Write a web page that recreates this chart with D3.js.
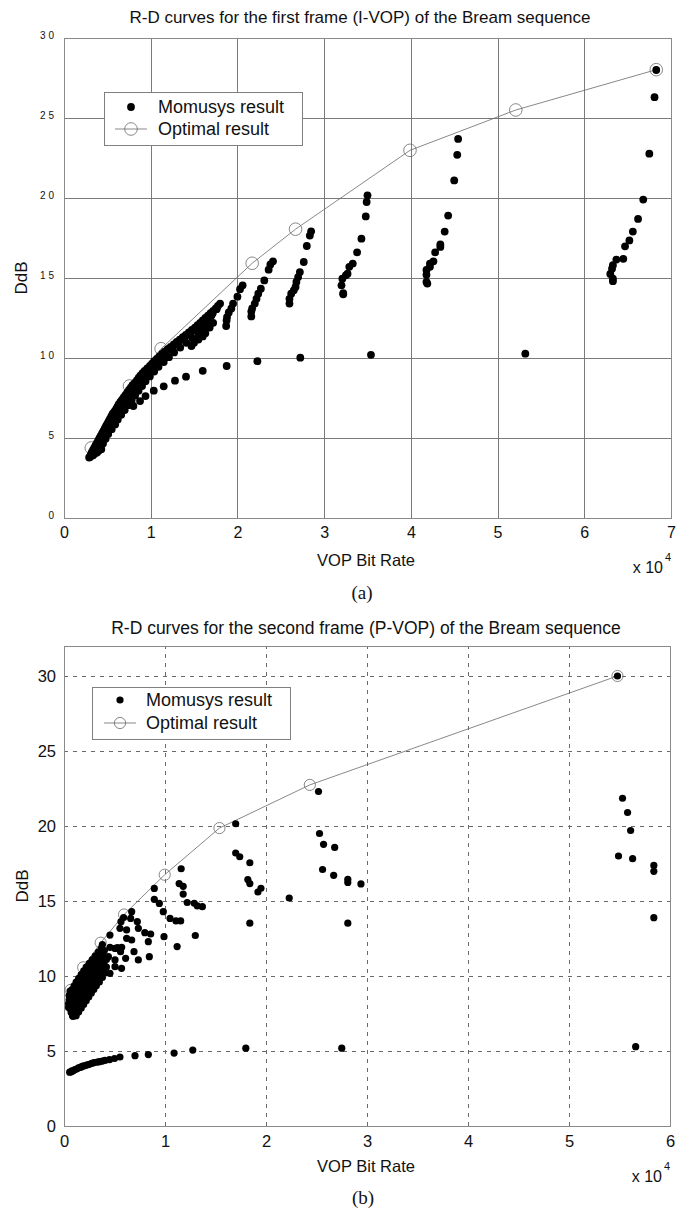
<!DOCTYPE html>
<html><head><meta charset="utf-8">
<script src="https://cdn.jsdelivr.net/npm/d3@7"></script>
<style>body{margin:0;background:#fff} svg{display:block}</style>
</head><body><svg id="c" width="684" height="1214"></svg>
<script>
// ---------- DATA (bit rate in units of 1e4, distortion in dB) ----------
const topTitle = "R-D curves for the first frame (I-VOP) of the Bream sequence";
const botTitle = "R-D curves for the second frame (P-VOP) of the Bream sequence";
const xLabel = "VOP Bit Rate";
const yLabel = "DdB";
const legendLabels = ["Momusys result", "Optimal result"];
const topXTicks = [0, 1, 2, 3, 4, 5, 6, 7];
const topYTicks = [0, 5, 10, 15, 20, 25, 30];
const botXTicks = [0, 1, 2, 3, 4, 5, 6];
const botYTicks = [0, 5, 10, 15, 20, 25, 30];

// (a) optimal result
const topOptimal = [[0.315,4.38],[0.755,8.25],[1.12,10.58],[2.17,15.92],[2.67,18.05],[3.99,22.98],[5.21,25.5],[6.83,28.02]];
// (a) Momusys result: main dense band
const topBandA = [[0.29,3.78],[0.30,3.82],[0.32,4.1],[0.35,4.4],[0.38,4.7],[0.41,5.0],[0.44,5.3],[0.47,5.6],[0.50,5.9],[0.53,6.2],[0.56,6.5],[0.60,6.8],[0.63,7.1],[0.67,7.4],[0.71,7.7],[0.75,8.0],[0.79,8.3],[0.84,8.6],[0.88,8.9],[0.93,9.2],[0.99,9.5],[1.04,9.8],[1.10,10.1],[1.16,10.4],[1.23,10.7],[1.30,11.0],[1.37,11.3],[1.44,11.6],[1.51,11.9],[1.57,12.2],[1.63,12.5],[1.69,12.8],[1.75,13.1],[1.80,13.4]];
const topBandD = [[0.31,3.97],[0.335,4.25],[0.365,4.55],[0.395,4.85],[0.425,5.15],[0.455,5.45],[0.485,5.75],[0.515,6.05],[0.545,6.35],[0.58,6.65],[0.615,6.95],[0.65,7.25],[0.69,7.55],[0.73,7.85],[0.77,8.15],[0.815,8.45],[0.86,8.75],[0.905,9.05],[0.96,9.35],[1.015,9.65],[1.07,9.95],[1.13,10.25],[1.195,10.55],[1.265,10.85],[1.335,11.15],[1.405,11.45],[1.475,11.75],[1.54,12.05],[1.60,12.35],[1.66,12.65],[1.72,12.95],[1.775,13.25]];
const topBandB = [[0.33,3.9],[0.34,3.95],[0.37,4.25],[0.40,4.55],[0.43,4.85],[0.46,5.15],[0.49,5.45],[0.53,5.75],[0.56,6.05],[0.59,6.35],[0.63,6.65],[0.66,6.95],[0.70,7.25],[0.74,7.55],[0.78,7.85],[0.82,8.15],[0.86,8.45],[0.91,8.75],[0.95,9.05],[1.00,9.35],[1.05,9.65],[1.11,9.95],[1.17,10.25],[1.23,10.55],[1.30,10.85],[1.37,11.15],[1.44,11.45],[1.51,11.75],[1.58,12.05],[1.64,12.35],[1.70,12.65]];
const topBandE = [[0.355,4.1],[0.385,4.4],[0.415,4.7],[0.445,5.0],[0.475,5.3],[0.51,5.6],[0.545,5.9],[0.575,6.2],[0.61,6.5],[0.645,6.8],[0.68,7.1],[0.72,7.4],[0.76,7.7],[0.80,8.0],[0.84,8.3],[0.88,8.6],[0.925,8.9],[0.97,9.2],[1.02,9.5],[1.075,9.8],[1.13,10.1],[1.19,10.4],[1.255,10.7],[1.32,11.0],[1.39,11.3],[1.46,11.6],[1.53,11.9],[1.60,12.2],[1.66,12.5],[1.715,12.8],[1.76,13.05]];
const topBandC = [[0.36,4.05],[0.38,4.1],[0.40,4.2],[0.42,4.35],[0.43,4.3],[0.45,4.65],[0.48,4.95],[0.51,5.25],[0.55,5.55],[0.59,5.85],[0.62,6.15],[0.66,6.45],[0.70,6.75],[0.74,7.05],[0.78,7.35],[0.82,7.65],[0.86,7.95],[0.90,8.25],[0.94,8.55],[0.99,8.85],[1.04,9.15],[1.09,9.45],[1.15,9.75],[1.21,10.05],[1.27,10.35],[1.34,10.65],[1.41,10.95],[1.48,11.25],[1.55,11.55],[1.61,11.85],[1.66,12.15]];
const topBandBulge = [[1.47,10.75],[1.50,10.95],[1.55,11.15],[1.60,11.35],[1.63,11.55],[1.68,11.9],[1.72,12.2]];
// (a) lower branch and the outlying streaks
const topLowerBranch = [[0.80,7.0],[0.877,7.31],[0.94,7.62],[1.035,7.96],[1.15,8.23],[1.28,8.58],[1.407,8.83],[1.6,9.2],[1.876,9.5],[2.23,9.8],[2.725,10.02],[3.54,10.2],[5.32,10.27]];
const topStreak19 = [[2.06,14.54],[2.03,14.3],[2.0,13.83],[1.95,13.4],[1.93,13.1],[1.90,12.85],[1.88,12.56],[1.875,12.35],[1.87,12.0]];
const topStreak22 = [[2.41,16.04],[2.38,15.85],[2.36,15.52],[2.31,14.85],[2.27,14.33],[2.24,14.02],[2.22,13.7],[2.20,13.4],[2.17,13.1],[2.16,12.9],[2.16,12.6]];
const topStreak27 = [[2.85,17.92],[2.835,17.65],[2.80,17.0],[2.765,16.0],[2.72,15.37],[2.70,15.06],[2.68,14.75],[2.67,14.44],[2.65,14.23],[2.62,14.02],[2.60,13.7],[2.60,13.4]];
const topStreak33 = [[3.50,20.17],[3.49,19.75],[3.48,18.85],[3.43,17.46],[3.38,16.6],[3.33,15.9],[3.29,15.7],[3.27,15.27],[3.25,15.17],[3.21,14.96],[3.20,14.54],[3.22,14.06],[3.22,13.98]];
const topStreak43 = [[4.545,23.69],[4.535,22.7],[4.50,21.1],[4.43,18.9],[4.39,17.9],[4.34,17.1],[4.34,16.94],[4.28,16.6],[4.26,16.04],[4.22,15.9],[4.22,15.7],[4.18,15.5],[4.18,15.2],[4.18,14.75],[4.19,14.65]];
const topStreak65 = [[6.83,28.0],[6.81,26.3],[6.75,22.77],[6.68,19.9],[6.62,18.69],[6.56,17.9],[6.52,17.35],[6.47,16.98],[6.45,16.2],[6.37,16.15],[6.33,15.8],[6.32,15.58],[6.30,15.25],[6.33,14.96],[6.33,14.8]];

// (b) optimal result
const botOptimal = [[0.066,9.07],[0.19,10.58],[0.363,12.22],[0.595,14.1],[0.997,16.75],[1.539,19.86],[2.434,22.74],[5.48,30.0]];
// (b) Momusys result: dense cluster near the origin
const botClusterA = [[0.06,8.2],[0.06,8.5],[0.065,8.8],[0.08,9.1],[0.10,9.35],[0.12,9.6],[0.145,9.85],[0.17,10.1],[0.195,10.35],[0.22,10.6],[0.25,10.85],[0.28,11.1],[0.31,11.35],[0.34,11.6],[0.37,11.85]];
const botClusterAB = [[0.055,8.05],[0.06,8.35],[0.07,8.65],[0.085,8.95],[0.105,9.2],[0.13,9.45],[0.155,9.7],[0.18,9.95],[0.21,10.2],[0.235,10.45],[0.265,10.7],[0.295,10.95],[0.325,11.2],[0.355,11.45],[0.385,11.7]];
const botClusterB = [[0.065,7.8],[0.08,8.05],[0.095,8.3],[0.11,8.55],[0.13,8.8],[0.15,9.05],[0.175,9.3],[0.2,9.55],[0.225,9.8],[0.25,10.05],[0.28,10.3],[0.31,10.55],[0.34,10.8],[0.37,11.05],[0.40,11.3]];
const botClusterBC = [[0.075,7.55],[0.095,7.8],[0.11,8.1],[0.13,8.35],[0.15,8.6],[0.17,8.85],[0.195,9.1],[0.22,9.35],[0.245,9.6],[0.275,9.85],[0.305,10.1],[0.335,10.35],[0.365,10.6],[0.395,10.85],[0.42,11.1]];
const botClusterC = [[0.085,7.35],[0.105,7.6],[0.125,7.85],[0.145,8.1],[0.165,8.35],[0.19,8.6],[0.215,8.85],[0.24,9.1],[0.27,9.35],[0.30,9.6],[0.33,9.85],[0.36,10.1],[0.39,10.35],[0.42,10.6]];
const botClusterCD = [[0.12,7.35],[0.145,7.6],[0.17,7.85],[0.195,8.1],[0.22,8.35],[0.245,8.6],[0.27,8.85],[0.295,9.1],[0.32,9.35],[0.35,9.6],[0.38,9.9],[0.41,10.2]];
const botClusterEdge = [[0.045,7.9],[0.05,8.4],[0.07,7.6],[0.09,7.3],[0.12,7.5],[0.05,8.7],[0.06,9.0],[0.045,8.15]];
// (b) Momusys result: scattered points
const botScatter = [[0.894,15.84],[0.894,15.11],[0.944,14.84],[0.983,14.29],[1.05,13.84],[1.109,13.67],[1.155,13.67],[0.99,12.62],[1.12,11.96],[0.67,14.29],[0.66,13.84],[0.726,13.62],[0.736,13.18],[0.80,12.89],[0.858,12.8],[0.835,12.29],[0.845,11.29],[0.736,11.07],[0.693,11.62],[0.67,12.4],[0.62,12.51],[0.564,13.62],[0.554,13.18],[0.62,13.07],[0.571,11.91],[0.56,11.62],[0.61,11.18],[0.455,12.73],[0.455,11.91],[0.505,11.84],[0.53,11.9],[0.505,11.07],[0.505,10.62],[0.57,10.51],[0.44,11.29],[0.455,10.18],[0.38,12.1],[0.40,11.7],[0.42,11.2],[0.59,13.9],
 [1.16,17.15],[1.14,16.16],[1.18,15.98],[1.18,15.46],[1.22,14.9],[1.29,14.85],[1.32,14.67],[1.37,14.62],[1.30,12.7],
 [1.70,20.15],[1.70,18.2],[1.74,17.95],[1.84,17.55],[1.82,16.43],[1.84,16.16],[1.95,15.85],[1.92,15.6],[1.84,13.52],[2.23,15.2],
 [2.52,22.3],[2.53,19.5],[2.57,18.78],[2.68,18.57],[2.56,17.1],[2.67,16.71],[2.81,16.45],[2.81,16.24],[2.94,16.14],[2.81,13.52],
 [5.48,30.0],[5.53,21.85],[5.58,20.9],[5.61,19.7],[5.49,18.0],[5.63,17.82],[5.84,17.37],[5.84,16.98],[5.84,13.89],[5.66,5.29]];
// (b) Momusys result: low-distortion branch
const botLowBranch = [[0.056,3.59],[0.069,3.6],[0.078,3.67],[0.09,3.68],[0.108,3.76],[0.125,3.8],[0.143,3.88],[0.158,3.9],[0.17,3.94],[0.186,3.99],[0.208,4.02],[0.23,4.07],[0.25,4.11],[0.275,4.17],[0.297,4.22],[0.33,4.26],[0.35,4.29],[0.38,4.33],[0.406,4.37],[0.45,4.42],[0.50,4.5],[0.554,4.6],[0.703,4.69],[0.835,4.76],[1.09,4.86],[1.275,5.06],[1.80,5.19],[2.75,5.19]];

// ---------- DRAWING ----------
const svg = d3.select("#c");
const SANS = "'Liberation Sans', Arial, sans-serif";
const SERIF = "'Liberation Serif', 'Times New Roman', serif";

function panel(o) {
  const x = d3.scaleLinear().domain(o.xDomain).range([o.left, o.right]);
  const y = d3.scaleLinear().domain(o.yDomain).range([o.bottom, o.top]);
  const g = svg.append("g");
  const h = o.bottom - o.top, w = o.right - o.left;

  // grid + tick labels via axes
  const gx = g.append("g").attr("transform", `translate(0,${o.bottom})`)
    .call(d3.axisBottom(x).tickValues(o.xTicks).tickFormat(d3.format("d")).tickSize(-h).tickPadding(o.xPad));
  const gy = g.append("g").attr("transform", `translate(${o.left},0)`)
    .call(d3.axisLeft(y).tickValues(o.yTicks).tickFormat(d3.format("d")).tickSize(-w).tickPadding(o.yPad));
  [gx, gy].forEach(a => {
    a.select(".domain").remove();
    a.selectAll("line").attr("stroke", o.gridColor).attr("stroke-width", 1)
      .attr("stroke-dasharray", o.gridDash).attr("shape-rendering", "crispEdges");
  });
  gx.selectAll("text").attr("font-family", SANS).attr("font-size", o.xTickSize).attr("fill", "#111");
  gy.selectAll("text").attr("font-family", SANS).attr("font-size", o.yTickSize).attr("fill", "#111")
    .attr("letter-spacing", o.yLetter).attr("dy", o.yDy);

  // frame
  g.append("rect").attr("x", o.left).attr("y", o.top).attr("width", w).attr("height", h)
    .attr("fill", "none").attr("stroke", o.frameColor).attr("stroke-width", 1).attr("shape-rendering", "crispEdges");

  // optimal line + circles
  g.append("path").datum(o.optimal)
    .attr("d", d3.line().x(d => x(d[0])).y(d => y(d[1])))
    .attr("fill", "none").attr("stroke", "#6a6a6a").attr("stroke-width", 0.8);
  g.append("g").selectAll("circle").data(o.optimal).join("circle")
    .attr("cx", d => x(d[0])).attr("cy", d => y(d[1])).attr("r", o.circR)
    .attr("fill", "none").attr("stroke", "#6a6a6a").attr("stroke-width", 0.8);

  // momusys dots
  g.append("g").selectAll("circle").data(o.dots).join("circle")
    .attr("cx", d => x(d[0])).attr("cy", d => y(d[1])).attr("r", o.dotR).attr("fill", "#000");

  // titles & labels
  g.append("text").attr("x", o.titleX).attr("y", o.titleY).attr("text-anchor", "middle")
    .attr("font-family", SANS).attr("font-size", o.titleSize).attr("fill", "#111").text(o.title);
  g.append("text").attr("transform", `translate(${o.yLabX},${(o.top + o.bottom) / 2}) rotate(-90)`)
    .attr("text-anchor", "middle").attr("font-family", SANS).attr("font-size", 17).attr("fill", "#111").text(yLabel);
  g.append("text").attr("x", o.xLabX).attr("y", o.xLabY).attr("text-anchor", "middle")
    .attr("font-family", SANS).attr("font-size", 16.5).attr("fill", "#111").text(xLabel);
  g.append("text").attr("x", o.right - 8).attr("y", o.expY).attr("text-anchor", "end")
    .attr("font-family", SANS).attr("font-size", 16).attr("fill", "#111").text("x 10");
  g.append("text").attr("x", o.right - 6).attr("y", o.expY - 12).attr("font-family", SANS)
    .attr("font-size", 11).attr("fill", "#111").text("4");
  g.append("text").attr("x", o.capX).attr("y", o.capY).attr("text-anchor", "middle")
    .attr("font-family", SERIF).attr("font-size", 19).attr("fill", "#111").text(o.caption);

  // legend
  const L = o.legend;
  g.append("rect").attr("x", L.x).attr("y", L.y).attr("width", L.w).attr("height", L.h)
    .attr("fill", "#fff").attr("stroke", "#808080").attr("stroke-width", 1).attr("shape-rendering", "crispEdges");
  g.append("circle").attr("cx", L.mx).attr("cy", L.r1).attr("r", o.dotR).attr("fill", "#000");
  g.append("line").attr("x1", L.mx - 16).attr("x2", L.mx + 16).attr("y1", L.r2).attr("y2", L.r2)
    .attr("stroke", "#6a6a6a").attr("stroke-width", 0.8);
  g.append("circle").attr("cx", L.mx).attr("cy", L.r2).attr("r", o.circR)
    .attr("fill", "none").attr("stroke", "#6a6a6a").attr("stroke-width", 0.8);
  g.selectAll(null).data(legendLabels).join("text")
    .attr("x", L.tx).attr("y", (d, i) => (i ? L.r2 : L.r1)).attr("dy", "0.35em")
    .attr("font-family", SANS).attr("font-size", 18).attr("fill", "#111").text(d => d);
}

panel({
  xDomain: [0, 7], yDomain: [0, 30], left: 64, right: 671, top: 38, bottom: 518,
  xTicks: topXTicks, yTicks: topYTicks, xPad: 9, yPad: 7, xTickSize: 16, yTickSize: 10,
  yLetter: 3, yDy: "0.05em", gridColor: "#7a7a7a", gridDash: null, frameColor: "#8a8a8a",
  optimal: topOptimal,
  dots: [].concat(topBandA, topBandD, topBandB, topBandE, topBandC, topBandBulge, topLowerBranch, topStreak19, topStreak22, topStreak27, topStreak33, topStreak43, topStreak65),
  dotR: 3.9, circR: 6.3,
  title: topTitle, titleX: 360, titleY: 23, titleSize: 17,
  yLabX: 27, xLabX: 366, xLabY: 566, expY: 573, capX: 362, capY: 599, caption: "(a)",
  legend: {x: 104, y: 92, w: 198, h: 53, mx: 131, tx: 158, r1: 107, r2: 129}
});

panel({
  xDomain: [0, 6], yDomain: [0, 32], left: 64, right: 670, top: 646, bottom: 1126,
  xTicks: botXTicks, yTicks: botYTicks, xPad: 9, yPad: 8, xTickSize: 16.5, yTickSize: 16.5,
  yLetter: 0, yDy: "0.34em", gridColor: "#6a6a6a", gridDash: "4,5", frameColor: "#8a8a8a",
  optimal: botOptimal,
  dots: [].concat(botClusterA, botClusterAB, botClusterB, botClusterBC, botClusterC, botClusterCD, botClusterEdge, botScatter, botLowBranch),
  dotR: 3.6, circR: 5.6,
  title: botTitle, titleX: 366, titleY: 634, titleSize: 17.5,
  yLabX: 28, xLabX: 366, xLabY: 1172, expY: 1182, capX: 363, capY: 1204, caption: "(b)",
  legend: {x: 92, y: 687, w: 198, h: 52, mx: 120, tx: 146, r1: 700, r2: 723}
});
</script></body></html>
